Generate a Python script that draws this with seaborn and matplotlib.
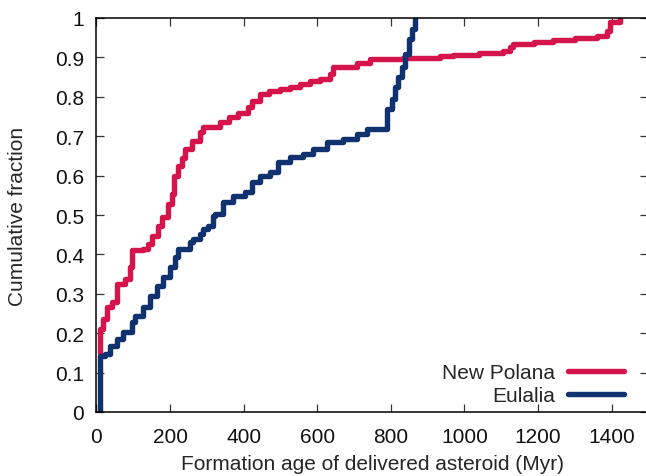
import matplotlib
matplotlib.use("Agg")
import matplotlib.pyplot as plt
import seaborn as sns
import pandas as pd

# ---- data (step points: at x the fraction jumps to y) ----
polana_x = [10, 10, 18, 29, 42, 56, 78, 91, 97, 127, 140, 151, 167, 178, 195, 205,
            210, 222, 232, 241, 260, 282, 290, 336, 360, 385, 412, 423, 445, 470, 499,
            525, 553, 580, 608, 635, 643, 708, 743, 833, 934, 969, 1040, 1105, 1124,
            1132, 1190, 1241, 1300, 1360, 1387, 1396, 1423]
polana_y = [0.15, 0.21, 0.236, 0.267, 0.28, 0.325, 0.337, 0.368, 0.41, 0.413, 0.426,
            0.447, 0.472, 0.495, 0.528, 0.553, 0.60, 0.625, 0.645, 0.667, 0.688, 0.71,
            0.723, 0.736, 0.748, 0.76, 0.774, 0.79, 0.807, 0.814, 0.82, 0.826, 0.833,
            0.839, 0.845, 0.858, 0.875, 0.886, 0.896, 0.898, 0.903, 0.906, 0.911,
            0.916, 0.926, 0.934, 0.939, 0.944, 0.949, 0.954, 0.967, 0.99, 1.0]

eulalia_x = [10, 10, 24, 37, 56, 72, 97, 105, 127, 146, 165, 181, 200, 214, 222, 254,
             263, 282, 290, 303, 317, 323, 345, 372, 404, 423, 445, 472, 494, 526, 562,
             589, 626, 670, 708, 735, 789, 789, 803, 811, 819, 830, 838, 849, 857, 866]
eulalia_y = [0.0, 0.142, 0.147, 0.168, 0.185, 0.203, 0.228, 0.244, 0.266, 0.295,
             0.32, 0.343, 0.368, 0.393, 0.414, 0.431, 0.439, 0.452, 0.464, 0.472,
             0.497, 0.503, 0.533, 0.548, 0.558, 0.584, 0.60, 0.609, 0.634, 0.647,
             0.655, 0.667, 0.685, 0.693, 0.706, 0.718, 0.723, 0.769, 0.794, 0.825,
             0.85, 0.876, 0.909, 0.947, 0.972, 1.0]

series_names = ["New Polana", "Eulalia"]
series_colors = ["#d5144b", "#10336f"]
x_ticks = [0, 200, 400, 600, 800, 1000, 1200, 1400]
y_ticks = [0, 0.1, 0.2, 0.3, 0.4, 0.5, 0.6, 0.7, 0.8, 0.9, 1]
y_ticklabels = ["0", "0.1", "0.2", "0.3", "0.4", "0.5", "0.6", "0.7", "0.8", "0.9", "1"]
x_label = "Formation age of delivered asteroid (Myr)"
y_label = "Cumulative fraction"

df = pd.concat([
    pd.DataFrame({"age": polana_x, "frac": polana_y, "family": series_names[0]}),
    pd.DataFrame({"age": eulalia_x, "frac": eulalia_y, "family": series_names[1]}),
], ignore_index=True)

sns.set_style("ticks")
plt.rcParams["font.family"] = ["Liberation Sans", "DejaVu Sans"]

FS = 15

fig = plt.figure(figsize=(6.46, 4.77), dpi=100)
ax = fig.add_axes([96.4 / 646, 64 / 477, 552 / 646, 394 / 477])

sns.lineplot(data=df, x="age", y="frac", hue="family", hue_order=series_names,
             palette=series_colors, estimator=None, sort=False,
             drawstyle="steps-post", linewidth=3.9, ax=ax)

ax.set_xlim(0, 1500)
ax.set_ylim(0, 1)
ax.set_xticks(x_ticks)
ax.set_yticks(y_ticks)
ax.set_yticklabels(y_ticklabels)
ax.tick_params(direction="in", length=6, width=0.9, color="#333333",
               top=True, right=True, labelsize=FS, labelcolor="#111111")
ax.tick_params(axis="y", pad=9)
ax.tick_params(axis="x", pad=10.5)
for s in ax.spines.values():
    s.set_linewidth(1.1)
    s.set_color("black")

ax.set_xlabel(x_label, fontsize=FS, labelpad=6)
ax.set_ylabel(y_label, fontsize=FS)
ax.yaxis.set_label_coords(-0.126, 0.5)

leg = ax.legend(loc="lower right", bbox_to_anchor=(0.956, 0.018), frameon=False,
                markerfirst=False, fontsize=FS, handlelength=2.7,
                handletextpad=0.6, labelspacing=0.17, borderaxespad=0, borderpad=0)
for h in leg.get_lines():
    h.set_linewidth(3.9)

fig.savefig("out.png", dpi=100)
